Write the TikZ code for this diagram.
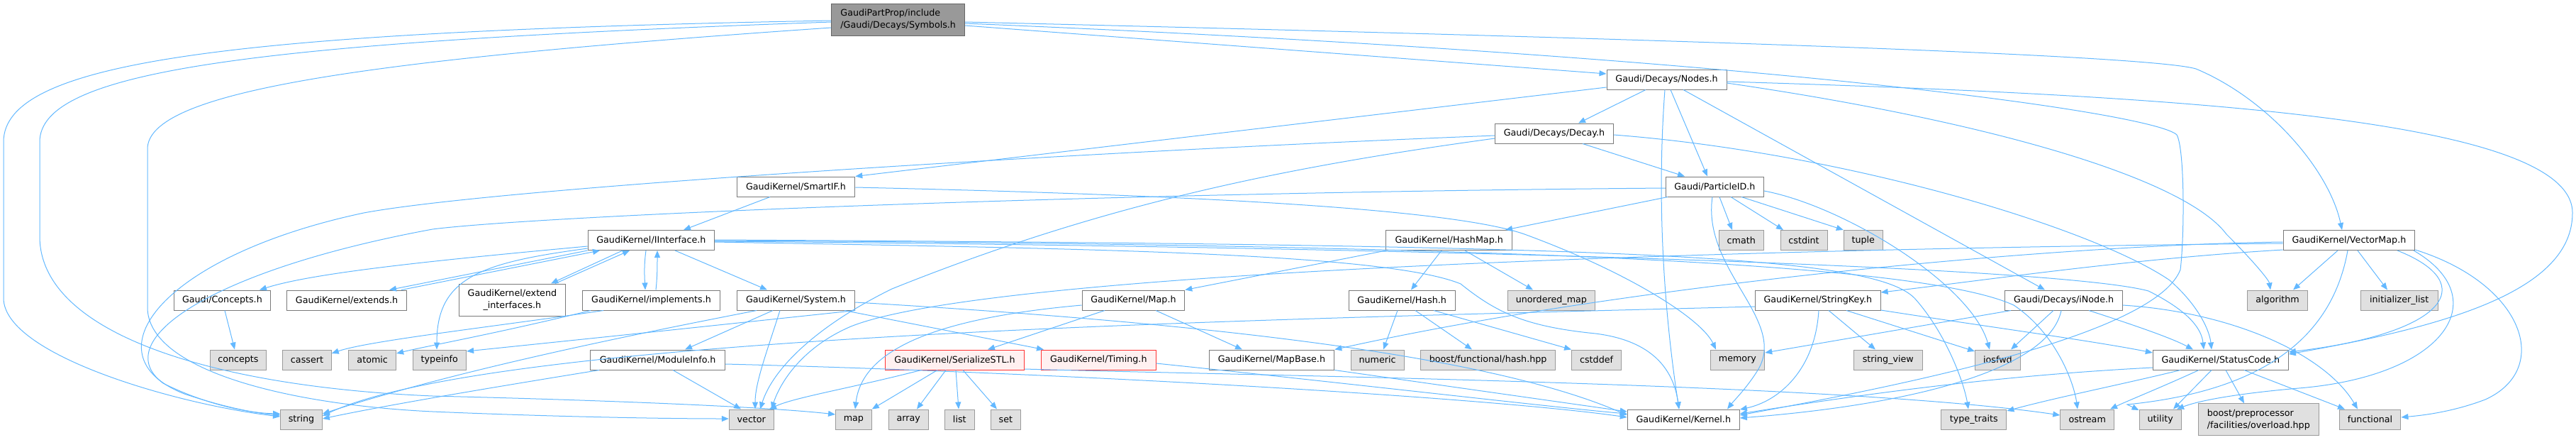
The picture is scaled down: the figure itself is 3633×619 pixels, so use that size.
\documentclass[tikz,border=0pt]{standalone}
\usepackage{fontspec}
\setmainfont{DejaVu Sans}
\usetikzlibrary{arrows.meta}
\definecolor{edgeblue}{HTML}{63B8FF}
\definecolor{nborder}{HTML}{7A7A7A}
\definecolor{gborder}{HTML}{9A9A9A}
\definecolor{gfill}{HTML}{E0E0E0}
\definecolor{rootfill}{HTML}{999999}
\definecolor{rootborder}{HTML}{666666}
\definecolor{redb}{HTML}{FF3333}
\definecolor{pinkf}{HTML}{FFF0F0}
\begin{document}
\begin{tikzpicture}[x=1pt,y=-1pt,
  nb/.style={draw=nborder,fill=white,line width=1pt,minimum height=28pt,inner sep=0pt,font=\fontsize{12.7}{16.7}\selectfont},
  gb/.style={nb,draw=gborder,fill=gfill},
  rb/.style={nb,draw=redb,fill=pinkf},
  e/.style={draw=edgeblue,line width=1pt,-{Triangle[length=10pt,width=8pt]}}]
\useasboundingbox (0,0) rectangle (3633,619);
% nodes
\node[nb,draw=rootborder,fill=rootfill,minimum width=188pt,minimum height=45pt,align=left] (S) at (1266.7,27.5) {GaudiPartProp/include\\/Gaudi/Decays/Symbols.h};
\node[nb,minimum width=169pt] (N) at (2350.5,112) {Gaudi/Decays/Nodes.h};
\node[nb,minimum width=167pt] (D) at (2192,188) {Gaudi/Decays/Decay.h};
\node[nb,minimum width=166.5pt] (SIF) at (1122.5,263) {GaudiKernel/SmartIF.h};
\node[nb,minimum width=138pt] (P) at (2418.4,263) {Gaudi/ParticleID.h};
\node[nb,minimum width=185.7pt] (VM) at (3312.9,338.5) {GaudiKernel/VectorMap.h};
\node[nb,minimum width=178.6pt] (II) at (918.4,338.5) {GaudiKernel/IInterface.h};
\node[nb,minimum width=177.8pt] (HM) at (2043.7,338.5) {GaudiKernel/HashMap.h};
\node[gb,minimum width=62.6pt] (cmath) at (2455.8,338.5) {cmath};
\node[gb,minimum width=66pt] (cstdint) at (2544,338.5) {cstdint};
\node[gb,minimum width=55pt] (tuple) at (2627.8,338.5) {tuple};
% row 3
\node[nb,minimum width=135.7pt] (conc) at (313.4,423) {Gaudi/Concepts.h};
\node[nb,minimum width=168.8pt] (ext) at (489,423) {GaudiKernel/extends.h};
\node[nb,minimum width=149.7pt,minimum height=45pt,align=center] (ei) at (722.4,422.5) {GaudiKernel/extend\\\_interfaces.h};
\node[nb,minimum width=194.9pt] (impl) at (918.5,423) {GaudiKernel/implements.h};
\node[nb,minimum width=166.5pt] (Sys) at (1122.5,423) {GaudiKernel/System.h};
\node[nb,minimum width=144.7pt] (Map) at (1598.4,423) {GaudiKernel/Map.h};
\node[nb,minimum width=149.8pt] (Hash) at (1977.2,423) {GaudiKernel/Hash.h};
\node[gb,minimum width=123.7pt] (um) at (2187.9,423) {unordered\_map};
\node[nb,minimum width=176.6pt] (SK) at (2563.8,423) {GaudiKernel/StringKey.h};
\node[nb,minimum width=165.4pt] (iN) at (2910.6,423) {Gaudi/Decays/iNode.h};
\node[gb,minimum width=84.7pt] (alg) at (3212,423) {algorithm};
\node[gb,minimum width=109.4pt] (il) at (3383.7,423) {initializer\_list};
% row 4
\node[gb,minimum width=79.8pt] (concs) at (335.9,507) {concepts};
\node[gb,minimum width=68.5pt] (cas) at (433,507) {cassert};
\node[gb,minimum width=66.9pt] (atom) at (525.2,507) {atomic};
\node[gb,minimum width=75.6pt] (ti) at (619.8,507) {typeinfo};
\node[nb,minimum width=189.9pt] (MI) at (927.6,507) {GaudiKernel/ModuleInfo.h};
\node[rb,minimum width=195.7pt] (SS) at (1346.5,507) {GaudiKernel/SerializeSTL.h};
\node[rb,minimum width=161.8pt] (Tim) at (1549.3,507) {GaudiKernel/Timing.h};
\node[nb,minimum width=176.7pt] (MB) at (1793.4,507) {GaudiKernel/MapBase.h};
\node[gb,minimum width=75.1pt] (num) at (1942.6,507) {numeric};
\node[gb,minimum width=190.2pt] (bh) at (2098.6,507) {boost/functional/hash.hpp};
\node[gb,minimum width=70pt] (cdef) at (2251.6,507) {cstddef};
\node[gb,minimum width=76.6pt] (mem) at (2450.4,507) {memory};
\node[gb,minimum width=96.9pt] (sv) at (2662.8,507) {string\_view};
\node[gb,minimum width=63.8pt] (ios) at (2817.4,507) {iosfwd};
\node[nb,minimum width=191pt] (SC) at (3131.8,507) {GaudiKernel/StatusCode.h};
% row 5
\node[gb,minimum width=58.8pt] (str) at (425,591) {string};
\node[gb,minimum width=63pt] (vec) at (1059.8,591) {vector};
\node[gb,minimum width=50.7pt] (map) at (1203.9,591) {map};
\node[gb,minimum width=56pt] (arr) at (1281.3,591) {array};
\node[gb,minimum width=42pt] (lst) at (1353.3,591) {list};
\node[gb,minimum width=41.6pt] (set) at (1418.4,591) {set};
\node[nb,minimum width=158.1pt] (K) at (2374.3,591) {GaudiKernel/Kernel.h};
\node[gb,minimum width=92.2pt] (tt) at (2783.8,591) {type\_traits};
\node[gb,minimum width=75.9pt] (ost) at (2943.7,591) {ostream};
\node[gb,minimum width=59.3pt] (ut) at (3046.7,591) {utility};
\node[gb,minimum width=170.4pt,minimum height=45pt,align=left] (bpp) at (3185.3,591.3) {boost/preprocessor\\/facilities/overload.hpp};
\node[gb,minimum width=86.8pt] (func) at (3342.5,591) {functional};
% ---------- edges
% Symbols
\draw[e] (S.east |- 0,36) -- (N.west |- 0,104);
\draw[e] (S.east |- 0,31) .. controls (2500,58) and (3040,80) .. (3097,97) .. controls (3200,140) and (3285,240) .. (VM.north -| 3303,0);
\draw[e] (S.east |- 0,33) .. controls (2500,80) and (3040,160) .. (3070,190) .. controls (3081,210) and (3081,330) .. (3075,380) .. controls (3040,470) and (2700,540) .. (K.east |- 0,585);
\draw[e] (S.west |- 0,29) .. controls (300,45) and (5,90) .. (5,200) -- (5,420) .. controls (5,500) and (250,570) .. (str.west |- 0,587);
\draw[e] (S.west |- 0,31) .. controls (350,60) and (56,100) .. (56,200) -- (56,333) .. controls (56,470) and (300,545) .. (610,558) .. controls (900,565) and (1100,575) .. (map.west |- 0,584);
\draw[e] (S.west |- 0,39) .. controls (500,85) and (208,130) .. (208,210) -- (208,433) .. controls (208,520) and (400,570) .. (610,580) .. controls (800,588) and (950,590) .. (vec.west |- 0,590);
% Nodes
\draw[e] (N.south -| 2321,0) -- (D.north -| 2226,0);
\draw[e] (N.west |- 0,123) -- (SIF.north east);
\draw[e] (N.south -| 2356,0) -- (P.north -| 2408,0);
\draw[e] (N.south -| 2348,0) .. controls (2335,300) and (2350,460) .. (K.north -| 2368,0);
\draw[e] (N.south -| 2374,0) -- (iN.north -| 2884,0);
\draw[e] (N.east |- 0,115) .. controls (3100,135) and (3628,170) .. (3628,300) .. controls (3628,410) and (3450,460) .. (SC.east |- 0,499);
\draw[e] (N.east |- 0,117) .. controls (2800,170) and (3080,250) .. (3140,330) .. controls (3180,370) and (3200,395) .. (alg.north -| 3202,0);
% Decay
\draw[e] (D.south -| 2232,0) -- (P.north -| 2376,0);
\draw[e] (D.east |- 0,190) .. controls (2600,215) and (2950,320) .. (3060,395) .. controls (3100,430) and (3116,465) .. (SC.north -| 3119,0);
\draw[e] (D.west |- 0,191) .. controls (1500,215) and (700,265) .. (513,300) .. controls (230,360) and (120,500) .. (260,555) .. controls (320,575) and (360,582) .. (str.west |- 0,585);
\draw[e] (D.west |- 0,195) .. controls (1800,237) and (1550,290) .. (1258,407) .. controls (1150,460) and (1090,520) .. (vec.north -| 1072,0);
% ParticleID
\draw[e] (P.south -| 2352,0) -- (HM.north -| 2123,0);
\draw[e] (P.south -| 2415,0) .. controls (2400,380) and (2520,450) .. (2480,520) .. controls (2465,545) and (2445,565) .. (K.north -| 2436,0);
\draw[e] (P.south -| 2425,0) -- (cmath.north -| 2443,0);
\draw[e] (P.south -| 2441,0) -- (cstdint.north -| 2515,0);
\draw[e] (P.south -| 2456,0) -- (tuple.north west);
\draw[e] (P.east |- 0,269) .. controls (2600,290) and (2780,400) .. (ios.north -| 2806,0);
\draw[e] (P.west |- 0,265) .. controls (1500,272) and (750,305) .. (610,323) .. controls (300,380) and (150,480) .. (230,540) .. controls (290,570) and (350,582) .. (str.west |- 0,583);
% SmartIF
\draw[e] (SIF.south -| 1086,0) -- (II.north -| 964,0);
\draw[e] (SIF.east |- 0,264) .. controls (1700,275) and (2050,295) .. (2150,330) .. controls (2300,385) and (2400,450) .. (mem.north -| 2420,0);
% IInterface
\draw[e] (II.west |- 0,347) .. controls (600,368) and (440,385) .. (conc.north -| 366,0);
\draw[e] (II.south west) -- (ext.north -| 549,0);
\draw[e] (ext.north -| 566,0) -- (II.south -| 846,0);
\draw[e] (II.south -| 878,0) -- (ei.north -| 777,0);
\draw[e] (ei.north -| 783,0) -- (II.south -| 888,0);
\draw[e] (II.south -| 911,0) .. controls (908,375) and (909,390) .. (impl.north -| 910,0);
\draw[e] (impl.north -| 925,0) .. controls (927,390) and (927,375) .. (II.south -| 927,0);
\draw[e] (II.south -| 952,0) -- (Sys.north -| 1082,0);
\draw[e] (II.west |- 0,350) .. controls (680,370) and (616,390) .. (ti.north -| 616,0);
\draw[e] (II.east |- 0,341) .. controls (1500,350) and (1950,355) .. (2060,400) .. controls (2110,440) and (2150,460) .. (2250,470) .. controls (2330,480) and (2360,520) .. (K.north -| 2368,0);
\draw[e] (II.east |- 0,340) .. controls (2000,348) and (2900,375) .. (3030,410) .. controls (3090,440) and (3105,465) .. (SC.north -| 3108,0);
\draw[e] (II.east |- 0,339) .. controls (2200,345) and (2720,375) .. (2840,430) .. controls (2900,470) and (2925,540) .. (ost.north -| 2930,0);
\draw[e] (II.east |- 0,338) .. controls (2300,345) and (2640,360) .. (2700,420) .. controls (2745,470) and (2770,540) .. (tt.north -| 2776,0);
% implements
\draw[e] (impl.south -| 851,0) .. controls (700,460) and (520,480) .. (cas.east |- 0,498);
\draw[e] (impl.south -| 833,0) .. controls (700,470) and (600,488) .. (atom.east |- 0,498);
% Concepts
\draw[e] (conc.south -| 317,0) -- (concs.north -| 331,0);
% System
\draw[e] (Sys.south -| 1090,0) -- (MI.north -| 966,0);
\draw[e] (Sys.south -| 1191,0) -- (Tim.north -| 1472,0);
\draw[e] (Sys.south -| 1067,0) .. controls (900,470) and (650,520) .. (str.east |- 0,583);
\draw[e] (Sys.south -| 1100,0) .. controls (1080,500) and (1065,540) .. (vec.north -| 1065,0);
\draw[e] (Sys.east |- 0,426) .. controls (1700,455) and (2100,500) .. (K.west |- 0,585);
\draw[e] (Sys.south east) .. controls (900,470) .. (ti.east |- 0,495);
% ModuleInfo
\draw[e] (MI.south -| 845,0) .. controls (700,545) and (550,570) .. (str.east |- 0,590);
\draw[e] (MI.south -| 949,0) -- (vec.north -| 1045,0);
\draw[e] (MI.east |- 0,513) .. controls (1500,525) and (2100,560) .. (K.west |- 0,588);
% Map
\draw[e] (Map.south -| 1630,0) -- (MB.north -| 1752,0);
\draw[e] (Map.south -| 1558,0) -- (SS.north -| 1393,0);
\draw[e] (Map.west |- 0,430) .. controls (1300,450) and (1215,500) .. (map.north -| 1206,0);
% HashMap
\draw[e] (HM.south -| 1955,0) -- (Map.north east);
\draw[e] (HM.south -| 2033,0) -- (Hash.north -| 1990,0);
\draw[e] (HM.south -| 2066,0) -- (um.north -| 2162,0);
% Hash
\draw[e] (Hash.south -| 1971,0) -- (num.north -| 1951,0);
\draw[e] (Hash.south -| 1996,0) -- (bh.north -| 2076,0);
\draw[e] (Hash.south -| 2022,0) -- (cdef.north west);
% SerializeSTL
\draw[e] (SS.south -| 1322,0) -- (map.north east);
\draw[e] (SS.south -| 1334,0) -- (arr.north -| 1293,0);
\draw[e] (SS.south -| 1348,0) -- (lst.north -| 1352,0);
\draw[e] (SS.south -| 1358,0) -- (set.north -| 1406,0);
\draw[e] (SS.south -| 1299,0) .. controls (1200,547) and (1120,560) .. (vec.north -| 1085,0);
\draw[e] (SS.east |- 0,520) .. controls (1800,530) and (2600,540) .. (ost.west |- 0,585);
% Timing, MapBase
\draw[e] (Tim.east |- 0,512) .. controls (1900,540) and (2200,575) .. (K.west |- 0,583);
\draw[e] (MB.south east) -- (K.west |- 0,580);
% StringKey
\draw[e] (SK.south -| 2565,0) .. controls (2560,520) and (2510,565) .. (K.east |- 0,577);
\draw[e] (SK.south -| 2579,0) -- (sv.north -| 2645,0);
\draw[e] (SK.south -| 2604,0) -- (ios.west |- 0,495);
\draw[e] (SK.east |- 0,437) .. controls (2800,460) and (2950,480) .. (SC.west |- 0,497);
\draw[e] (SK.west |- 0,432) .. controls (1800,450) and (700,470) .. (str.east |- 0,586);
% iNode
\draw[e] (iN.south -| 2836,0) -- (mem.east |- 0,497);
\draw[e] (iN.south -| 2896,0) -- (ios.north -| 2836,0);
\draw[e] (iN.south -| 2907,0) .. controls (2890,520) and (2700,570) .. (K.east |- 0,589);
\draw[e] (iN.south -| 2946,0) .. controls (3000,455) and (3060,475) .. (SC.north -| 3093,0);
\draw[e] (iN.east |- 0,430) .. controls (3150,440) and (3280,500) .. (func.north -| 3325,0);
% StatusCode
\draw[e] (SC.south -| 3119,0) -- (ut.north -| 3065,0);
\draw[e] (SC.south -| 3139,0) -- (bpp.north -| 3165,0);
\draw[e] (SC.south -| 3165,0) -- (func.north -| 3307,0);
\draw[e] (SC.west |- 0,518) .. controls (2800,530) and (2600,560) .. (K.east |- 0,583);
\draw[e] (SC.south -| 3075,0) .. controls (3000,540) and (2900,560) .. (tt.east |- 0,579);
\draw[e] (SC.south -| 3101,0) .. controls (3050,545) and (3000,565) .. (ost.north -| 2976,0);
% VectorMap
\draw[e] (VM.south -| 3297,0) -- (alg.north -| 3234,0);
\draw[e] (VM.south -| 3325,0) -- (il.north -| 3367,0);
\draw[e] (VM.south -| 3381,0) .. controls (3500,400) and (3450,470) .. (SC.east |- 0,496);
\draw[e] (VM.south -| 3404,0) .. controls (3520,420) and (3450,530) .. (3242,547) .. controls (3150,555) and (3100,565) .. (ut.north -| 3070,0);
\draw[e] (VM.east |- 0,352) .. controls (3560,400) and (3600,520) .. (3505,563) .. controls (3460,580) and (3420,585) .. (func.east |- 0,588);
\draw[e] (VM.south -| 3311,0) .. controls (3290,470) and (3200,550) .. (3000,570) -- (ut.west |- 0,578);
\draw[e] (VM.west |- 0,341) .. controls (2900,345) and (2300,400) .. (MB.north east);
\draw[e] (VM.west |- 0,352) .. controls (3000,365) and (2800,395) .. (SK.east |- 0,412);
\draw[e] (VM.west |- 0,343) .. controls (2500,350) and (1400,380) .. (1200,460) .. controls (1130,490) and (1100,540) .. (vec.north -| 1088,0);
\end{tikzpicture}
\end{document}
